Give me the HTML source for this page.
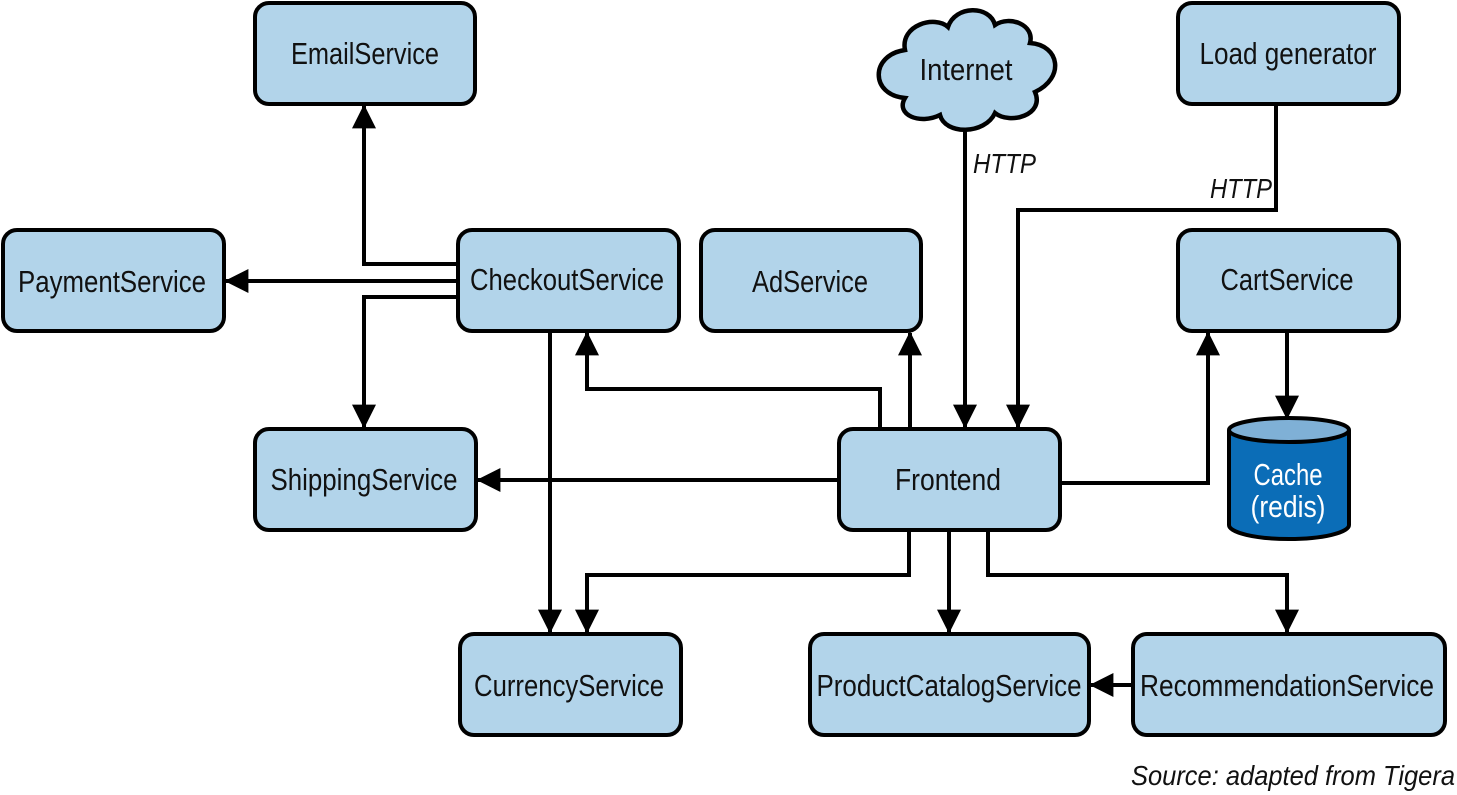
<!DOCTYPE html>
<html><head><meta charset="utf-8"><style>
html,body{margin:0;padding:0;background:#fff;}
svg{display:block;}
text{font-family:"Liberation Sans",sans-serif;font-size:31px;fill:#111;}
.b{fill:#b2d4ea;stroke:#000;stroke-width:4;}
.l{fill:none;stroke:#000;stroke-width:4;}
</style></head><body>
<svg width="1457" height="795" viewBox="0 0 1457 795" xmlns="http://www.w3.org/2000/svg">
<defs>
<marker id="a" markerWidth="6" markerHeight="6" refX="5.6" refY="3" orient="auto" markerUnits="strokeWidth">
<path d="M0,0 L6,3 L0,6 Z" fill="#000"/>
</marker>
</defs>
<path class="l" d="M458,264 H364 V106" marker-end="url(#a)"/>
<path class="l" d="M458,281 H226" marker-end="url(#a)"/>
<path class="l" d="M458,297 H364 V427" marker-end="url(#a)"/>
<path class="l" d="M550,331 V632" marker-end="url(#a)"/>
<path class="l" d="M880,429 V389 H587 V333" marker-end="url(#a)"/>
<path class="l" d="M910,429 V333" marker-end="url(#a)"/>
<path class="l" d="M965,128 V427" marker-end="url(#a)"/>
<path class="l" d="M1276,104 V210 H1018 V427" marker-end="url(#a)"/>
<path class="l" d="M1060,483 H1208 V333" marker-end="url(#a)"/>
<path class="l" d="M1287,331 V418" marker-end="url(#a)"/>
<path class="l" d="M839,480 H478" marker-end="url(#a)"/>
<path class="l" d="M909,530 V575 H587 V632" marker-end="url(#a)"/>
<path class="l" d="M949,530 V632" marker-end="url(#a)"/>
<path class="l" d="M988,530 V575 H1287 V632" marker-end="url(#a)"/>
<path class="l" d="M1133,685 H1091" marker-end="url(#a)"/>
<rect class="b" x="255" y="3" width="220" height="101" rx="14"/>
<rect class="b" x="3" y="230" width="221" height="101" rx="14"/>
<rect class="b" x="458" y="230" width="221" height="101" rx="14"/>
<rect class="b" x="701" y="230" width="220" height="101" rx="14"/>
<rect class="b" x="1178" y="3" width="221" height="101" rx="14"/>
<rect class="b" x="1178" y="230" width="221" height="101" rx="14"/>
<rect class="b" x="255" y="429" width="221" height="101" rx="14"/>
<rect class="b" x="839" y="429" width="221" height="101" rx="14"/>
<rect class="b" x="460" y="634" width="221" height="101" rx="14"/>
<rect class="b" x="810" y="634" width="279" height="101" rx="14"/>
<rect class="b" x="1133" y="634" width="312" height="101" rx="14"/>
<path class="b" style="stroke-width:4.5" d="M905,50 C900,25 935,15 948,27 C955,5 990,5 995,25 C1010,15 1035,25 1030,43 C1060,45 1065,78 1035,92 C1045,115 1010,125 995,113 C985,135 945,135 940,115 C920,125 895,115 905,98 C870,95 870,55 905,50 Z"/>
<path d="M1229,430 V525 A60,14 0 0 0 1349,525 V430" fill="#0b6db7" stroke="#000" stroke-width="4"/>
<ellipse cx="1289" cy="430" rx="60" ry="12" fill="#7fb0d6" stroke="#000" stroke-width="4"/>
<text x="365" y="64" text-anchor="middle" textLength="148" lengthAdjust="spacingAndGlyphs">EmailService</text>
<text x="112" y="292" text-anchor="middle" textLength="188" lengthAdjust="spacingAndGlyphs">PaymentService</text>
<text x="567" y="290" text-anchor="middle" textLength="194" lengthAdjust="spacingAndGlyphs">CheckoutService</text>
<text x="810" y="292" text-anchor="middle" textLength="116" lengthAdjust="spacingAndGlyphs">AdService</text>
<text x="1288" y="64" text-anchor="middle" textLength="177" lengthAdjust="spacingAndGlyphs">Load generator</text>
<text x="1287" y="290" text-anchor="middle" textLength="133" lengthAdjust="spacingAndGlyphs">CartService</text>
<text x="364" y="490" text-anchor="middle" textLength="187" lengthAdjust="spacingAndGlyphs">ShippingService</text>
<text x="948" y="490" text-anchor="middle" textLength="106" lengthAdjust="spacingAndGlyphs">Frontend</text>
<text x="569" y="696" text-anchor="middle" textLength="190" lengthAdjust="spacingAndGlyphs">CurrencyService</text>
<text x="949" y="696" text-anchor="middle" textLength="265" lengthAdjust="spacingAndGlyphs">ProductCatalogService</text>
<text x="1287" y="696" text-anchor="middle" textLength="294" lengthAdjust="spacingAndGlyphs">RecommendationService</text>
<text x="966" y="80" text-anchor="middle" textLength="93" lengthAdjust="spacingAndGlyphs">Internet</text>
<text x="1288" y="485" text-anchor="middle" textLength="69" lengthAdjust="spacingAndGlyphs" style="fill:#fff">Cache</text>
<text x="1288" y="517" text-anchor="middle" textLength="75" lengthAdjust="spacingAndGlyphs" style="fill:#fff">(redis)</text>
<text x="973" y="173" textLength="63" lengthAdjust="spacingAndGlyphs" style="font-style:italic;font-size:28px">HTTP</text>
<text x="1210" y="198" textLength="62" lengthAdjust="spacingAndGlyphs" style="font-style:italic;font-size:28px">HTTP</text>
<text x="1455" y="785" text-anchor="end" textLength="324" lengthAdjust="spacingAndGlyphs" style="font-style:italic;font-size:28px">Source: adapted from Tigera</text>
</svg>
</body></html>
